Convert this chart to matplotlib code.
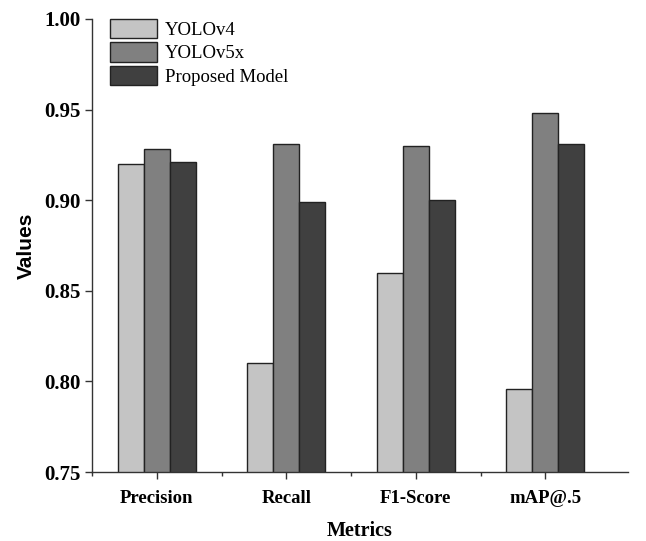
import matplotlib
matplotlib.use("Agg")
import matplotlib.pyplot as plt
import numpy as np
from matplotlib.ticker import FixedLocator

categories = ["Precision", "Recall", "F1-Score", "mAP@.5"]
series_names = ["YOLOv4", "YOLOv5x", "Proposed Model"]
yolov4 = [0.920, 0.810, 0.860, 0.796]
yolov5x = [0.928, 0.931, 0.930, 0.948]
proposed = [0.921, 0.899, 0.900, 0.931]
y_ticks = [0.75, 0.80, 0.85, 0.90, 0.95, 1.00]

colors = ["#c4c4c4", "#808080", "#404040"]

fig = plt.figure(figsize=(6.46, 5.41), dpi=100)
ax = fig.add_axes([0.1424, 0.1275, 0.83, 0.8374])

x = np.arange(len(categories))
w = 0.2
for i, (vals, name) in enumerate(zip([yolov4, yolov5x, proposed], series_names)):
    ax.bar(x + (i - 1) * w, vals, width=w, color=colors[i], edgecolor="#222222",
           linewidth=1.0, label=name, zorder=2)

ax.set_xlim(-0.5, 3.64)
ax.set_ylim(0.75, 1.0)
ax.set_xticks(x)
ax.set_xticklabels(categories, family="Liberation Serif", fontweight="bold", fontsize=13.5)
ax.xaxis.set_minor_locator(FixedLocator([-0.5, 0.5, 1.5, 2.5]))
ax.set_yticks(y_ticks)
ax.set_yticklabels([f"{v:.2f}" for v in y_ticks], family="Liberation Serif", fontweight="bold", fontsize=15)

for s in ["top", "right"]:
    ax.spines[s].set_visible(False)
for s in ["left", "bottom"]:
    ax.spines[s].set_color("#333333")
    ax.spines[s].set_linewidth(1.0)
ax.tick_params(axis="both", which="major", direction="out", length=5, width=1, color="#333333")
ax.tick_params(axis="x", which="minor", direction="out", length=3, width=1, color="#333333")
ax.tick_params(axis="x", pad=8)

ax.set_xlabel("Metrics", family="Liberation Serif", fontweight="bold", fontsize=14.5, labelpad=10)
ax.set_ylabel("Values", family="Liberation Sans", fontweight="bold", fontsize=15, labelpad=6)

leg = ax.legend(loc="upper left", bbox_to_anchor=(0.034, 1.0), frameon=False,
                prop={"family": "Liberation Serif", "size": 13.5},
                handlelength=2.5, handleheight=1.2, labelspacing=0.18,
                handletextpad=0.4, borderaxespad=0.0, borderpad=0.0)

fig.savefig("out.png", dpi=100)
